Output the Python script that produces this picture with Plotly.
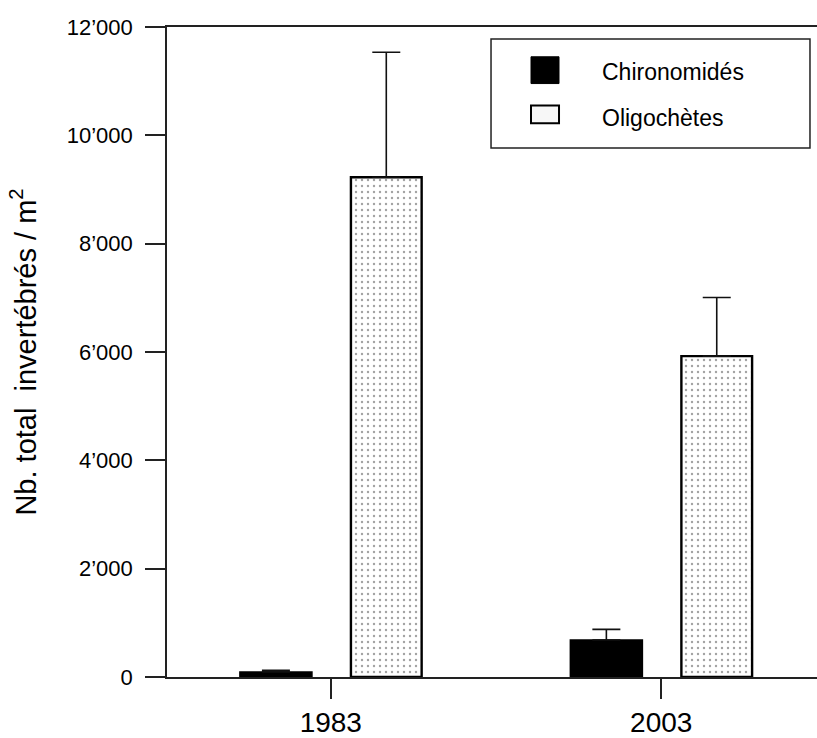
import plotly.graph_objects as go

years = ["1983", "2003"]
chiro_mean = [92, 683]
chiro_err = [30, 196]
oligo_mean = [9227, 5923]
oligo_err = [2308, 1082]
series_names = ["Chironomidés", "Oligochètes"]
ytick_vals = [0, 2000, 4000, 6000, 8000, 10000, 12000]
ytick_text = ["0", "2’000", "4’000", "6’000", "8’000", "10’000", "12’000"]

xpos = list(range(len(years)))
FONT = "Liberation Sans, Arial, sans-serif"

fig = go.Figure()
fig.add_trace(go.Bar(
    x=xpos, y=chiro_mean, name=series_names[0], showlegend=False,
    width=0.218, offset=-0.275,
    marker=dict(color="black", line=dict(color="black", width=1.5)),
    error_y=dict(type="data", array=chiro_err, arrayminus=[0] * len(years),
                 symmetric=False, color="#111", thickness=1.6, width=14),
))
fig.add_trace(go.Bar(
    x=xpos, y=oligo_mean, name=series_names[1], showlegend=False,
    width=0.214, offset=0.061,
    marker=dict(color="white", line=dict(color="black", width=2.4),
                pattern=dict(shape=".", fgcolor="#444", bgcolor="white",
                             size=6, solidity=0.12)),
    error_y=dict(type="data", array=oligo_err, arrayminus=[0] * len(years),
                 symmetric=False, color="#111", thickness=1.6, width=14),
))

# legend (frame, swatches, labels) in paper coordinates
fig.add_shape(type="rect", xref="paper", yref="paper",
              x0=0.4985, x1=0.9892, y0=0.8137, y1=0.9817,
              line=dict(color="#222", width=1.5), fillcolor="rgba(0,0,0,0)")
fig.add_shape(type="rect", xref="paper", yref="paper",
              x0=0.560, x1=0.6031, y0=0.9130, y1=0.9542,
              line=dict(color="black", width=1), fillcolor="black")
fig.add_shape(type="rect", xref="paper", yref="paper",
              x0=0.560, x1=0.6031, y0=0.8519, y1=0.8794,
              line=dict(color="black", width=2), fillcolor="#f7f7f7")
for name, yc in zip(series_names, [0.9313, 0.8595]):
    fig.add_annotation(text=name, xref="paper", yref="paper",
                       x=0.6662, y=yc, xanchor="left", yanchor="middle",
                       showarrow=False,
                       font=dict(size=23, family=FONT, color="black"))

fig.update_layout(
    width=817, height=738,
    margin=dict(l=167, r=0, t=27, b=56),
    plot_bgcolor="white", paper_bgcolor="white",
    barmode="overlay",
    font=dict(family=FONT, color="black"),
    showlegend=False,
    xaxis=dict(
        range=[-0.4956, 1.4714], tickvals=xpos, ticktext=years,
        showgrid=False, zeroline=False,
        showline=True, linecolor="#222", linewidth=1.5, mirror=True,
        ticks="outside", ticklen=20, tickwidth=1.5, tickcolor="#222",
        tickfont=dict(size=28, family=FONT, color="black"),
    ),
    yaxis=dict(
        range=[0, 12000], tickvals=ytick_vals, ticktext=ytick_text,
        showgrid=False, zeroline=False,
        showline=True, linecolor="#222", linewidth=1.5,
        ticks="outside", ticklen=20, tickwidth=1.5, tickcolor="#222",
        ticklabelstandoff=8,
        tickfont=dict(size=22, family=FONT, color="black"),
        title=dict(text="Nb. total\u00a0\u00a0invertébrés / m<sup>2</sup>",
                   font=dict(size=29, family=FONT, color="black"),
                   standoff=22),
    ),
)

fig.write_html("out.html")
